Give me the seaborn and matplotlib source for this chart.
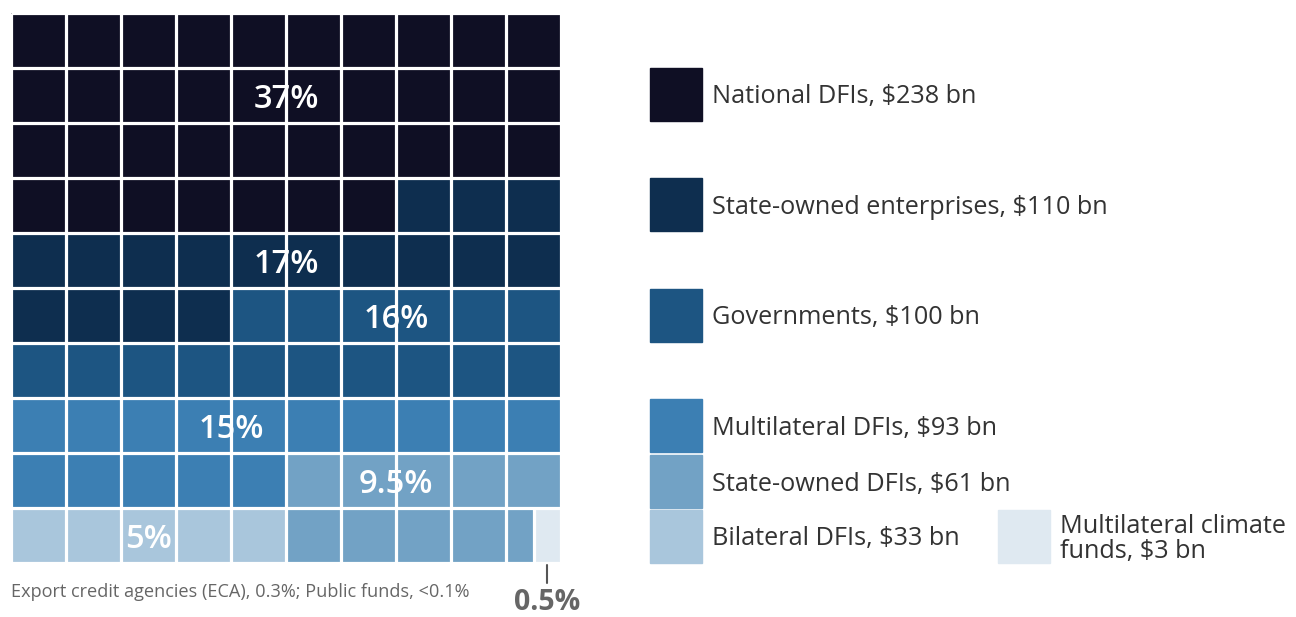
import numpy as np
import pandas as pd
import seaborn as sns
import matplotlib.pyplot as plt
from matplotlib.colors import ListedColormap
from matplotlib.patches import Rectangle

# Data
categories = ["National DFIs", "State-owned enterprises", "Governments",
              "Multilateral DFIs", "State-owned DFIs", "Bilateral DFIs",
              "Multilateral climate funds"]
amounts_bn = [238, 110, 100, 93, 61, 33, 3]
shares_pct = [37, 17, 16, 15, 9.5, 5, 0.5]
share_labels = ["37%", "17%", "16%", "15%", "9.5%", "5%", "0.5%"]
colors = ["#0f0f24", "#0e2e4f", "#1d5582", "#3c7fb3", "#72a2c5", "#a9c6dc", "#dfe9f1"]

# order in which the waffle gets filled (row by row); state-owned DFIs wrap around bilateral
fill_order = [(0, 37), (1, 17), (2, 16), (3, 15), (4, 5), (5, 5), (4, 4.5), (6, 0.5)]
footnote = "Export credit agencies (ECA), 0.3%; Public funds, <0.1%"

sns.set_theme(style="white")
plt.rcParams['font.family'] = ['Open Sans', 'DejaVu Sans']

# waffle in half-cells: 10 rows x 20 columns
cells = []
for cat, pct in fill_order:
    cells += [cat] * int(round(pct * 2))
grid = pd.DataFrame(np.array(cells).reshape(10, 20))

fig = plt.figure(figsize=(12.96, 6.17), dpi=100)
ax = fig.add_axes([11 / 1296, 1 - 563 / 617, 550 / 1296, 550 / 617])
sns.heatmap(grid, cmap=ListedColormap(colors), vmin=-0.5, vmax=6.5, cbar=False,
            xticklabels=False, yticklabels=False, ax=ax)

# white gutters between whole cells
lw = 2.3
ax.vlines(np.arange(0, 21, 2), 0, 10, color="white", lw=lw)
ax.hlines(np.arange(0, 11), 0, 20, color="white", lw=lw)
# split the last cell between the two smallest slices
split_x = cells.index(6) % 20
ax.vlines(split_x, 9, 10, color="white", lw=lw)

# percentage labels (x in whole cells, y in rows)
label_pos = [(5, 1.5), (5, 4.5), (7, 5.5), (4, 7.5), (7, 8.5), (2.5, 9.5)]
for (x, y), txt in zip(label_pos, share_labels[:6]):
    ax.text(x * 2, y + 0.07, txt, color="white", fontsize=23.5, fontweight="semibold",
            ha="center", va="center", zorder=5)

# 0.5% callout below the split cell
cx = split_x + 0.5
ax.plot([cx, cx], [10.04, 10.36], color="#555555", lw=1.5, clip_on=False)
ax.text(cx, 10.85, share_labels[6], color="#666666", fontsize=20.5, fontweight="bold",
        ha="center", va="baseline", clip_on=False)
ax.text(0, 10.52, footnote, color="#666666", fontsize=13.1, ha="left", va="center",
        clip_on=False)

# legend
legend_boxes = [(650, 68), (650, 178), (650, 289), (650, 399), (650, 455), (650, 510), (998, 510)]
for i, (x, y) in enumerate(legend_boxes):
    fig.patches.append(Rectangle((x / 1296, 1 - (y + 53) / 617), 52 / 1296, 53 / 617,
                                 transform=fig.transFigure, color=colors[i]))
    if i == 6:
        txt = f"Multilateral climate\nfunds, ${amounts_bn[i]} bn"
    else:
        txt = f"{categories[i]}, ${amounts_bn[i]} bn"
    fig.text((x + 62) / 1296, 1 - (y + 29) / 617, txt, fontsize=18.2, color="#333333",
             ha="left", va="center", linespacing=1.0)

fig.savefig("out.png", dpi=100)
